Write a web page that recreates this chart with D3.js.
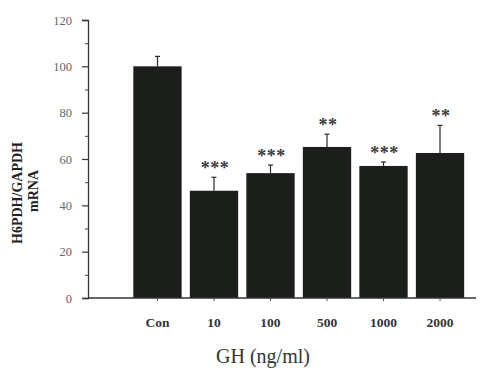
<!DOCTYPE html>
<html>
<head>
<meta charset="utf-8">
<script src="https://cdn.jsdelivr.net/npm/d3@7"></script>
<style>
  html, body { margin: 0; padding: 0; background: #fff; }
  svg { display: block; }
</style>
</head>
<body>
<svg id="chart" width="484" height="371"></svg>
<script>
// H6PDH/GAPDH mRNA expression by GH dose
const categories = ["Con", "10", "100", "500", "1000", "2000"];
const means      = [100, 46.3, 53.9, 65.2, 57.0, 62.6];
const errors     = [4.3, 5.8, 3.5, 5.5, 1.7, 11.9];
const signif     = ["", "***", "***", "**", "***", "**"];
const yTicks     = [0, 20, 40, 60, 80, 100, 120];
const yMinor     = [10, 30, 50, 70, 90, 110];

const svg = d3.select("#chart");
const serif = "'Liberation Serif', 'DejaVu Serif', serif";

const x0 = 88, x1 = 476, yBase = 298, yTop = 20;

const y = d3.scaleLinear().domain([0, 120]).range([yBase, yTop]);
const x = d3.scaleBand().domain(categories)
  .range([130.5, 467]).paddingInner(0.145).paddingOuter(0.05);

// bars
svg.append("g").selectAll("rect").data(categories).join("rect")
  .attr("x", d => x(d))
  .attr("width", x.bandwidth())
  .attr("y", (d, i) => y(means[i]))
  .attr("height", (d, i) => y(0) - y(means[i]))
  .attr("fill", "#1b1e1b");

// upward error bars
const eb = svg.append("g").attr("stroke", "#2a2a2a").attr("stroke-width", 1.2);
categories.forEach((c, i) => {
  const cx = x(c) + x.bandwidth() / 2;
  eb.append("line").attr("x1", cx).attr("x2", cx)
    .attr("y1", y(means[i])).attr("y2", y(means[i] + errors[i]));
  eb.append("line").attr("x1", cx - 2.5).attr("x2", cx + 2.5)
    .attr("y1", y(means[i] + errors[i])).attr("y2", y(means[i] + errors[i]));
});

// significance markers
svg.append("g").selectAll("text").data(categories).join("text")
  .attr("x", d => x(d) + x.bandwidth() / 2 + 1)
  .attr("y", (d, i) => y(means[i] + errors[i]) - 3)
  .attr("text-anchor", "middle")
  .attr("font-family", serif)
  .attr("font-weight", "bold")
  .attr("font-size", 18)
  .attr("letter-spacing", 0.5)
  .attr("fill", "#3a3a3a")
  .text((d, i) => signif[i]);

// y axis
const yAxis = svg.append("g").attr("transform", `translate(${x0},0)`)
  .call(d3.axisLeft(y).tickValues(yTicks).tickSize(6).tickPadding(10).tickFormat(d3.format("d")));
yAxis.select(".domain").attr("stroke", "#333").attr("stroke-width", 1.3);
yAxis.selectAll(".tick line").attr("stroke", "#333").attr("stroke-width", 1.2);
yAxis.selectAll(".tick text").attr("font-family", serif).attr("font-size", 12.5).attr("fill", "#666");

svg.append("g").attr("transform", `translate(${x0},0)`)
  .call(d3.axisLeft(y).tickValues(yMinor).tickSize(3).tickFormat(""))
  .call(g => g.select(".domain").remove())
  .selectAll(".tick line").attr("stroke", "#444").attr("stroke-width", 1);

// x axis baseline and ticks
svg.append("line").attr("x1", x0).attr("x2", x1).attr("y1", yBase).attr("y2", yBase)
  .attr("stroke", "#333").attr("stroke-width", 1.3);
const xAxis = svg.append("g").attr("transform", `translate(0,${yBase})`)
  .call(d3.axisBottom(x).tickSize(3).tickPadding(16));
xAxis.select(".domain").remove();
xAxis.selectAll(".tick line").attr("stroke", "#555");
xAxis.selectAll(".tick text").attr("font-family", serif).attr("font-weight", "bold")
  .attr("font-size", 13.5).attr("fill", "#333");

// axis titles
svg.append("text")
  .attr("transform", "translate(22,193) rotate(-90)")
  .attr("text-anchor", "middle")
  .attr("font-family", serif).attr("font-weight", "bold").attr("font-size", 14)
  .attr("fill", "#222")
  .text("H6PDH/GAPDH");
svg.append("text")
  .attr("transform", "translate(38,191) rotate(-90)")
  .attr("text-anchor", "middle")
  .attr("font-family", serif).attr("font-weight", "bold").attr("font-size", 14)
  .attr("fill", "#222")
  .text("mRNA");

svg.append("text")
  .attr("x", 263).attr("y", 363)
  .attr("text-anchor", "middle")
  .attr("font-family", serif).attr("font-size", 20)
  .attr("fill", "#333")
  .text("GH (ng/ml)");
</script>
</body>
</html>
